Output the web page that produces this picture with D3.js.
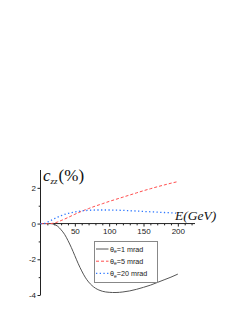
<!DOCTYPE html>
<html>
<head>
<meta charset="utf-8">
<script src="https://cdn.jsdelivr.net/npm/d3@7/dist/d3.min.js"></script>
<style>
  html, body { margin: 0; padding: 0; background: #fff; }
  svg { display: block; }
</style>
</head>
<body>
<svg id="chart" width="250" height="324"></svg>
<script>
// ---- data ----
const energy1 = [0, 10, 15, 20, 25, 30, 35, 40, 45, 50, 55, 60, 65, 70, 75, 80, 85, 90, 95, 100, 105, 110, 120, 130, 140, 150, 160, 170, 180, 190, 200];
const czz1mrad = [0, 0, 0, -0.05, -0.15, -0.35, -0.6, -0.95, -1.35, -1.8, -2.25, -2.65, -3.0, -3.27, -3.47, -3.62, -3.72, -3.79, -3.83, -3.85, -3.86, -3.86, -3.83, -3.77, -3.68, -3.57, -3.45, -3.3, -3.15, -3.0, -2.83];

const energy5 = [0, 10, 15, 20, 25, 30, 35, 40, 50, 60, 70, 80, 90, 100, 110, 120, 130, 140, 150, 160, 170, 180, 190, 200];
const czz5mrad = [0, 0, 0, 0.03, 0.09, 0.17, 0.25, 0.34, 0.52, 0.69, 0.84, 0.98, 1.11, 1.24, 1.36, 1.48, 1.6, 1.72, 1.84, 1.95, 2.06, 2.16, 2.26, 2.35];

const energy20 = [0, 5, 10, 15, 20, 25, 30, 35, 40, 50, 60, 70, 80, 90, 100, 110, 120, 130, 140, 150, 160, 170, 180, 190, 200];
const czz20mrad = [0, 0, 0.08, 0.17, 0.27, 0.36, 0.44, 0.51, 0.57, 0.65, 0.71, 0.74, 0.76, 0.76, 0.76, 0.75, 0.74, 0.72, 0.70, 0.68, 0.66, 0.64, 0.62, 0.60, 0.58];

const xTickValues = [50, 100, 150, 200];
const yTickValues = [-4, -2, 0, 2];
const legendLabels = ["1 mrad", "5 mrad", "20 mrad"];

// ---- layout ----
const svg = d3.select("#chart");
const x = d3.scaleLinear().domain([0, 225]).range([40.5, 195]);
const y = d3.scaleLinear().domain([-4, 3]).range([295, 170]);

const series = [
  { xs: energy1, ys: czz1mrad, color: "#555555", dash: null, width: 1 },
  { xs: energy5, ys: czz5mrad, color: "#ff4d4d", dash: "3,2", width: 1 },
  { xs: energy20, ys: czz20mrad, color: "#2f78ff", dash: "1.3,2.4", width: 1.3 }
];

// x axis at y=0
const xAxisG = svg.append("g").attr("transform", `translate(0,${y(0)})`);
xAxisG.call(d3.axisBottom(x).tickValues(xTickValues).tickSize(3).tickPadding(1.5).tickFormat(d3.format("d")));
xAxisG.selectAll(".domain").attr("d", `M${x(0)},0H${x(225)}`);
const xMinor = xAxisG.append("g").call(d3.axisBottom(x).tickValues(d3.range(10, 225, 10).filter(v => v % 50 !== 0)).tickSize(1.8).tickFormat(""));
xMinor.select(".domain").remove();

// y axis at x=0
const yAxisG = svg.append("g").attr("transform", `translate(${x(0)},0)`);
yAxisG.call(d3.axisLeft(y).tickValues(yTickValues).tickSize(3).tickPadding(1.5)
  .tickFormat(d => d < 0 ? "-" + Math.abs(d) : String(d)));
yAxisG.selectAll(".domain").attr("d", `M0,${y(-4)}V${y(3)}`);
const yMinor = yAxisG.append("g").call(d3.axisLeft(y).tickValues([-3, -1, 1]).tickSize(1.8).tickFormat(""));
yMinor.select(".domain").remove();

svg.selectAll(".tick text").attr("font-family", "'Liberation Sans', Arial, sans-serif").attr("font-size", 8).attr("fill", "#222");
svg.selectAll(".domain, .tick line").attr("stroke", "#222").attr("stroke-width", 1);

// curves
const line = d3.line().curve(d3.curveMonotoneX);
series.forEach(s => {
  svg.append("path")
    .attr("d", line(s.xs.map((v, i) => [x(v), y(s.ys[i])])))
    .attr("fill", "none")
    .attr("stroke", s.color)
    .attr("stroke-width", s.width)
    .attr("stroke-dasharray", s.dash);
});

// axis titles
const yt = svg.append("text").attr("x", 43).attr("y", 181).attr("font-family", "'Liberation Serif', 'Times New Roman', serif").attr("fill", "#111");
yt.append("tspan").attr("font-style", "italic").attr("font-size", 17).text("c");
yt.append("tspan").attr("font-style", "italic").attr("font-size", 9).attr("dy", 3).text("zz");
yt.append("tspan").attr("font-size", 17).attr("dy", -3).attr("dx", 1).text("(%)");

svg.append("text").attr("x", 175).attr("y", 219.5)
  .attr("font-family", "'Liberation Serif', 'Times New Roman', serif")
  .attr("font-style", "italic").attr("font-size", 13.5).attr("fill", "#111").text("E(GeV)");

// legend
const lg = svg.append("g");
lg.append("rect").attr("x", 94.5).attr("y", 241.5).attr("width", 63).attr("height", 41)
  .attr("fill", "#fff").attr("stroke", "#888").attr("stroke-width", 1);
series.forEach((s, i) => {
  const yy = 249 + i * 12.2;
  lg.append("line").attr("x1", 96).attr("x2", 108.5).attr("y1", yy).attr("y2", yy)
    .attr("stroke", s.color).attr("stroke-width", s.width).attr("stroke-dasharray", s.dash);
  const t = lg.append("text").attr("x", 110).attr("y", yy + 2.6)
    .attr("font-family", "'Liberation Sans', Arial, sans-serif").attr("font-size", 7.2).attr("fill", "#222");
  t.append("tspan").text("θ");
  t.append("tspan").attr("font-size", 5).attr("dy", 1.5).text("e");
  t.append("tspan").attr("dy", -1.5).text("=" + legendLabels[i]);
});
</script>
</body>
</html>
